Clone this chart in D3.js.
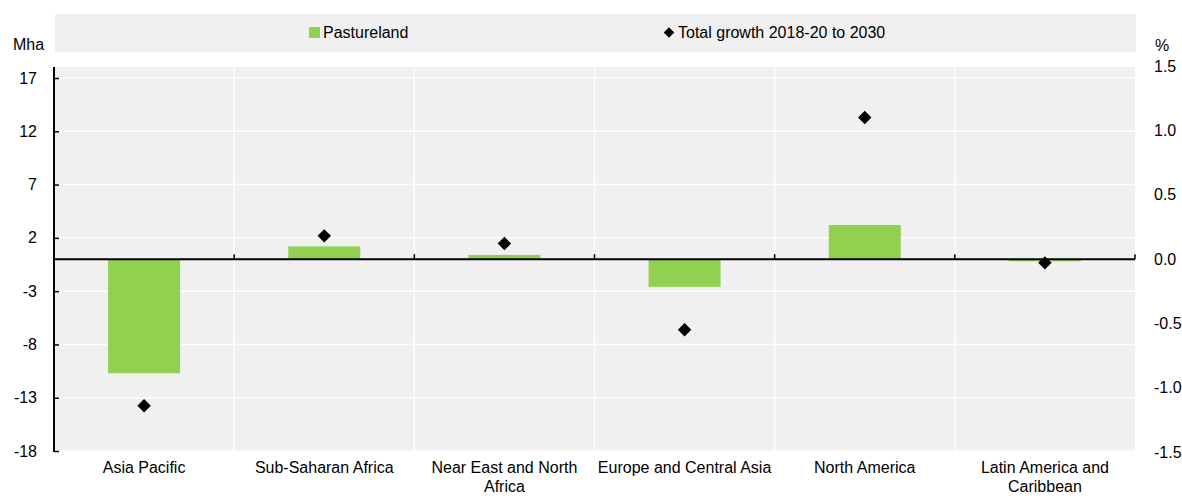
<!DOCTYPE html>
<html><head><meta charset="utf-8">
<script src="https://cdn.jsdelivr.net/npm/d3@7"></script>
<style>
body{margin:0;background:#fff;}
text{font-family:"Liberation Sans",Arial,sans-serif;fill:#000;}
</style></head><body>
<svg id="c" width="1182" height="499"></svg>
<script>
const categories = ["Asia Pacific","Sub-Saharan Africa","Near East and North Africa","Europe and Central Asia","North America","Latin America and Caribbean"];
const categoryLines = [["Asia Pacific"],["Sub-Saharan Africa"],["Near East and North","Africa"],["Europe and Central Asia"],["North America"],["Latin America and","Caribbean"]];
const pastureland = [-10.7, 1.2, 0.4, -2.6, 3.2, -0.2];
const totalGrowth = [-1.14, 0.18, 0.12, -0.55, 1.10, -0.03];
const leftTicks = [17, 12, 7, 2, -3, -8, -13, -18];
const rightTicks = [1.5, 1.0, 0.5, 0.0, -0.5, -1.0, -1.5];

const svg = d3.select("#c");
const L = 54, R = 1135, T = 67, B = 452;
const x = d3.scaleBand().domain(categories).range([L, R]).paddingInner(0).paddingOuter(0);
const y = d3.scaleLinear().domain([-18, 17]).range([451, 78]);
const y2 = d3.scaleLinear().domain([-1.5, 1.5]).range([452, 66]);
const hyph = f => d => f(d).replace("\u2212", "-");

// legend box
svg.append("rect").attr("x", 55).attr("y", 14).attr("width", R - 54).attr("height", 38).attr("fill", "#f0f0f0");
svg.append("rect").attr("x", 309).attr("y", 27).attr("width", 11).attr("height", 11).attr("fill", "#92d050");
svg.append("text").attr("x", 323).attr("y", 38).attr("font-size", 16).text("Pastureland");
svg.append("path").attr("d", d3.symbol(d3.symbolSquare, 56)()).attr("transform", "translate(669,32.5) rotate(45)").attr("fill", "#000");
svg.append("text").attr("x", 678).attr("y", 38).attr("font-size", 16).text("Total growth 2018-20 to 2030");

// plot background
svg.append("rect").attr("x", L).attr("y", T).attr("width", R - L).attr("height", B - T).attr("fill", "#f0f0f0");

// horizontal gridlines
svg.append("g").selectAll("line").data(leftTicks).join("line")
  .attr("x1", L).attr("x2", R).attr("y1", d => y(d)).attr("y2", d => y(d))
  .attr("stroke", "#fff").attr("stroke-width", 1.5);
// vertical gridlines at category boundaries
const bounds = categories.slice(1).map(c => x(c));
svg.append("g").selectAll("line").data(bounds).join("line")
  .attr("x1", d => d).attr("x2", d => d).attr("y1", T).attr("y2", B)
  .attr("stroke", "#fff").attr("stroke-width", 1.5);

// bars
const bw = 72;
svg.append("g").selectAll("rect").data(pastureland).join("rect")
  .attr("x", (d, i) => x(categories[i]) + x.bandwidth() / 2 - bw / 2)
  .attr("width", bw)
  .attr("y", d => Math.min(y(d), y(0)))
  .attr("height", d => Math.abs(y(d) - y(0)))
  .attr("fill", "#92d050");

// zero line with ticks
svg.append("line").attr("x1", L).attr("x2", R).attr("y1", y(0)).attr("y2", y(0)).attr("stroke", "#000").attr("stroke-width", 2);
svg.append("g").selectAll("line").data(categories.map(c => x(c)).concat([R])).join("line")
  .attr("x1", d => d).attr("x2", d => d).attr("y1", y(0) - 5).attr("y2", y(0))
  .attr("stroke", "#000").attr("stroke-width", 1.5);

// left axis
const gl = svg.append("g").attr("transform", `translate(${L},0)`)
  .call(d3.axisLeft(y).tickValues(leftTicks).tickSize(-5).tickPadding(17).tickFormat(hyph(d3.format("d"))));
gl.select(".domain").remove();
gl.append("line").attr("x1", 0).attr("x2", 0).attr("y1", T).attr("y2", B).attr("stroke", "#000").attr("stroke-width", 2);
gl.selectAll(".tick line").attr("stroke", "#000").attr("stroke-width", 1.5);
gl.selectAll(".tick text").attr("font-size", 16).attr("font-family", null).attr("fill", "#000");

// right axis
const gr = svg.append("g").attr("transform", `translate(${R},0)`)
  .call(d3.axisRight(y2).tickValues(rightTicks).tickSize(0).tickPadding(19).tickFormat(hyph(d3.format(".1f"))));
gr.select(".domain").remove();
gr.selectAll(".tick text").attr("font-size", 16).attr("font-family", null).attr("fill", "#000");

// units
svg.append("text").attr("x", 13).attr("y", 50).attr("font-size", 16).text("Mha");
svg.append("text").attr("x", 1155).attr("y", 51).attr("font-size", 16).text("%");

// diamonds
svg.append("g").selectAll("path").data(totalGrowth).join("path")
  .attr("d", d3.symbol(d3.symbolSquare, 90)())
  .attr("transform", (d, i) => `translate(${x(categories[i]) + x.bandwidth() / 2},${y2(d)}) rotate(45)`)
  .attr("fill", "#000");

// category labels
const cl = svg.append("g").selectAll("text").data(categoryLines).join("text")
  .attr("x", (d, i) => x(categories[i]) + x.bandwidth() / 2)
  .attr("y", 473).attr("text-anchor", "middle").attr("font-size", 16);
cl.selectAll("tspan").data(d => d).join("tspan")
  .attr("x", function () { return this.parentNode.getAttribute("x"); })
  .attr("dy", (d, i) => i === 0 ? 0 : 19).text(d => d);
</script></body></html>
